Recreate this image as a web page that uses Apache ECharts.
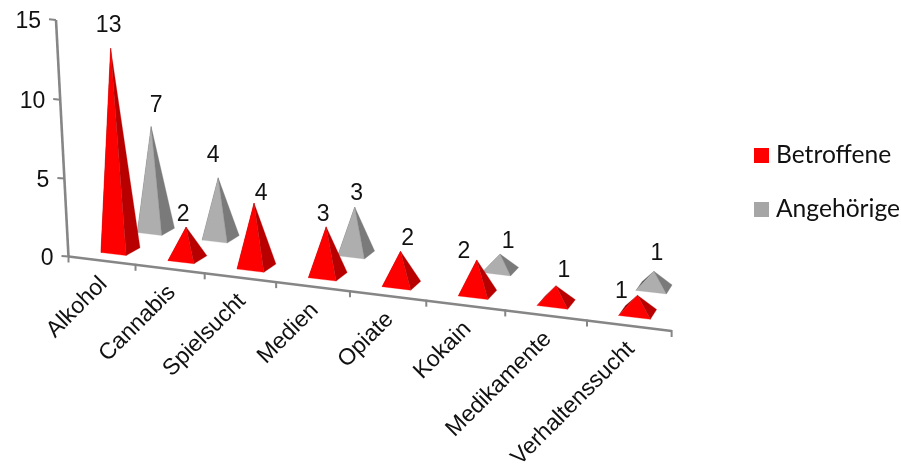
<!DOCTYPE html>
<html>
<head>
<meta charset="utf-8">
<title>Betroffene und Angehörige nach Suchtform</title>
<script src="https://cdn.jsdelivr.net/npm/echarts@6/dist/echarts.min.js"></script>
<style>
  html, body { margin: 0; padding: 0; background: #fff; }
  #chart { width: 901px; height: 464px; }
</style>
</head>
<body>
<div id="chart"></div>
<script>
// Counts per addiction type
const categories = ['Alkohol', 'Cannabis', 'Spielsucht', 'Medien', 'Opiate', 'Kokain', 'Medikamente', 'Verhaltenssucht'];
const betroffene = [13, 2, 4, 3, 2, 2, 1, 1];
const angehoerige = [7, 4, null, 3, null, 1, null, 1];
const valueTicks = [0, 5, 10, 15];

// Value label nudges (px) relative to each pyramid's apex
const betroffeneLabelShift = [[-2, -24], [-3, -14], [7, -11], [-3, -14], [7, -14], [-13, -10], [8, -17], [-16, -5]];
const angehoerigeLabelShift = [[5, -22], [-5, -24], null, [2, -15], null, [8, -14], null, [3, -19]];

const GRID = { left: 68, top: 20, width: 604, height: 240 };
const MAX_VALUE = 15;
const BAND = GRID.width / categories.length;
const UNIT = GRID.height / MAX_VALUE;
const GRID_BOTTOM = GRID.top + GRID.height;

// Perspective camera: (band position, value, depth) -> screen position
const CAM = {
  x0: 68.5, xu: 64.9, xv: -0.892, xz: 84.97,
  y0: 256.5, yu: 4.14, yv: -15.79, yz: -20.5,
  wu: -0.01562, wv: -0.00105, wz: 0.0845
};

function project(px, py, z) {
  const u = (px - GRID.left) / BAND;
  const v = (GRID_BOTTOM - py) / UNIT;
  const w = 1 + CAM.wu * u + CAM.wv * v + CAM.wz * z;
  return [
    (CAM.x0 + CAM.xu * u + CAM.xv * v + CAM.xz * z) / w,
    (CAM.y0 + CAM.yu * u + CAM.yv * v + CAM.yz * z) / w
  ];
}

const HALF_WIDTH = 0.19;   // pyramid half width, in bands
const HALF_DEPTH = 0.095;  // pyramid half depth, in depth units
const FONT = '"Liberation Sans", Arial, sans-serif';
const TEXT_COLOR = '#111111';
const AXIS_COLOR = '#868686';

function face(points, color) {
  return {
    type: 'polygon',
    shape: { points: points },
    style: { fill: color, stroke: color, lineWidth: 0.3 }
  };
}

function pyramidRenderer(depth, colors, shifts) {
  return function (params, api) {
    const index = api.value(0);
    const top = api.coord([index, api.value(1)]);
    const base = api.coord([index, 0]);
    const dx = HALF_WIDTH * BAND;
    const fl = project(base[0] - dx, base[1], depth - HALF_DEPTH);
    const fr = project(base[0] + dx, base[1], depth - HALF_DEPTH);
    const br = project(base[0] + dx, base[1], depth + HALF_DEPTH);
    const bl = project(base[0] - dx, base[1], depth + HALF_DEPTH);
    const apex = project(top[0], top[1], depth);
    const shift = shifts[index];
    return {
      type: 'group',
      children: [
        face([fl, bl, apex], colors.left),
        face([fl, fr, apex], colors.front),
        face([fr, br, apex], colors.right),
        {
          type: 'text',
          style: {
            text: String(api.value(1)),
            x: apex[0] + shift[0],
            y: apex[1] + shift[1] + 1.5,
            align: 'center',
            verticalAlign: 'middle',
            font: '23px ' + FONT,
            fill: TEXT_COLOR
          }
        }
      ]
    };
  };
}

function line(a, b, width) {
  return {
    type: 'line',
    shape: { x1: a[0], y1: a[1], x2: b[0], y2: b[1] },
    style: { stroke: AXIS_COLOR, lineWidth: width }
  };
}

// Both axes are drawn in perspective, so they are built from the same scales as the marks
function renderAxes(params, api) {
  const children = [];
  const origin = api.coord([0, 0]);
  const left = origin[0] - BAND / 2;
  const right = left + BAND * categories.length;
  const floorY = origin[1];
  const apexTop = api.coord([0, MAX_VALUE])[1];

  children.push(line(project(left, floorY, 0), project(left, apexTop, 0), 2.6));
  children.push(line(project(left, floorY, 0), project(right, floorY, 0), 2.6));

  for (let i = 0; i <= categories.length; i++) {
    const p = project(left + i * BAND, floorY, 0);
    children.push(line([p[0], p[1] - 1], [p[0], p[1] + 6], 2));
  }

  valueTicks.forEach(function (tick) {
    const p = project(left, api.coord([0, tick])[1], 0);
    children.push(line(p, [p[0] - 7, p[1] - 0.6], 2));
    children.push({
      type: 'text',
      style: {
        text: String(tick),
        x: p[0] - 15,
        y: p[1] + 2,
        align: 'right',
        verticalAlign: 'middle',
        font: '23px ' + FONT,
        fill: TEXT_COLOR
      }
    });
  });

  categories.forEach(function (name, i) {
    const center = api.coord([i, 0]);
    const p = project(center[0], center[1], 0);
    children.push({
      type: 'text',
      x: p[0] + 2,
      y: p[1] + 20,
      rotation: Math.PI / 4,
      style: {
        text: name,
        x: 0,
        y: 0,
        align: 'right',
        verticalAlign: 'middle',
        font: '23px ' + FONT,
        fill: TEXT_COLOR
      }
    });
  });

  return { type: 'group', children: children };
}

function rows(values) {
  return values
    .map(function (value, index) { return [index, value]; })
    .filter(function (row) { return row[1] !== null; });
}

const chart = echarts.init(document.getElementById('chart'), null, { renderer: 'canvas' });
chart.setOption({
  animation: false,
  backgroundColor: '#ffffff',
  grid: { left: GRID.left, top: GRID.top, width: GRID.width, height: GRID.height },
  xAxis: { type: 'category', data: categories, show: false },
  yAxis: { type: 'value', min: 0, max: MAX_VALUE, interval: 5, show: false },
  legend: {
    left: 749,
    top: 138,
    orient: 'vertical',
    icon: 'rect',
    itemWidth: 15,
    itemHeight: 15,
    itemGap: 29,
    selectedMode: false,
    data: ['Betroffene', 'Angehörige'],
    textStyle: { fontFamily: 'Lato, "Open Sans", sans-serif', fontSize: 24.6, color: TEXT_COLOR, padding: [0, 0, 0, 2] }
  },
  series: [
    {
      type: 'custom',
      name: 'Achsen',
      silent: true,
      z: 1,
      clip: false,
      data: [[0, 0]],
      encode: { x: 0, y: 1 },
      renderItem: renderAxes
    },
    {
      type: 'custom',
      name: 'Angehörige',
      z: 2,
      clip: false,
      itemStyle: { color: '#a6a6a6' },
      data: rows(angehoerige),
      encode: { x: 0, y: 1 },
      renderItem: pyramidRenderer(0.75, { front: '#aeaeae', right: '#7a7a7a', left: '#5e5e5e' }, angehoerigeLabelShift)
    },
    {
      type: 'custom',
      name: 'Betroffene',
      z: 3,
      clip: false,
      itemStyle: { color: '#ff0000' },
      data: rows(betroffene),
      encode: { x: 0, y: 1 },
      renderItem: pyramidRenderer(0.25, { front: '#ff0000', right: '#b80000', left: '#8c0000' }, betroffeneLabelShift)
    }
  ]
});
</script>
</body>
</html>
